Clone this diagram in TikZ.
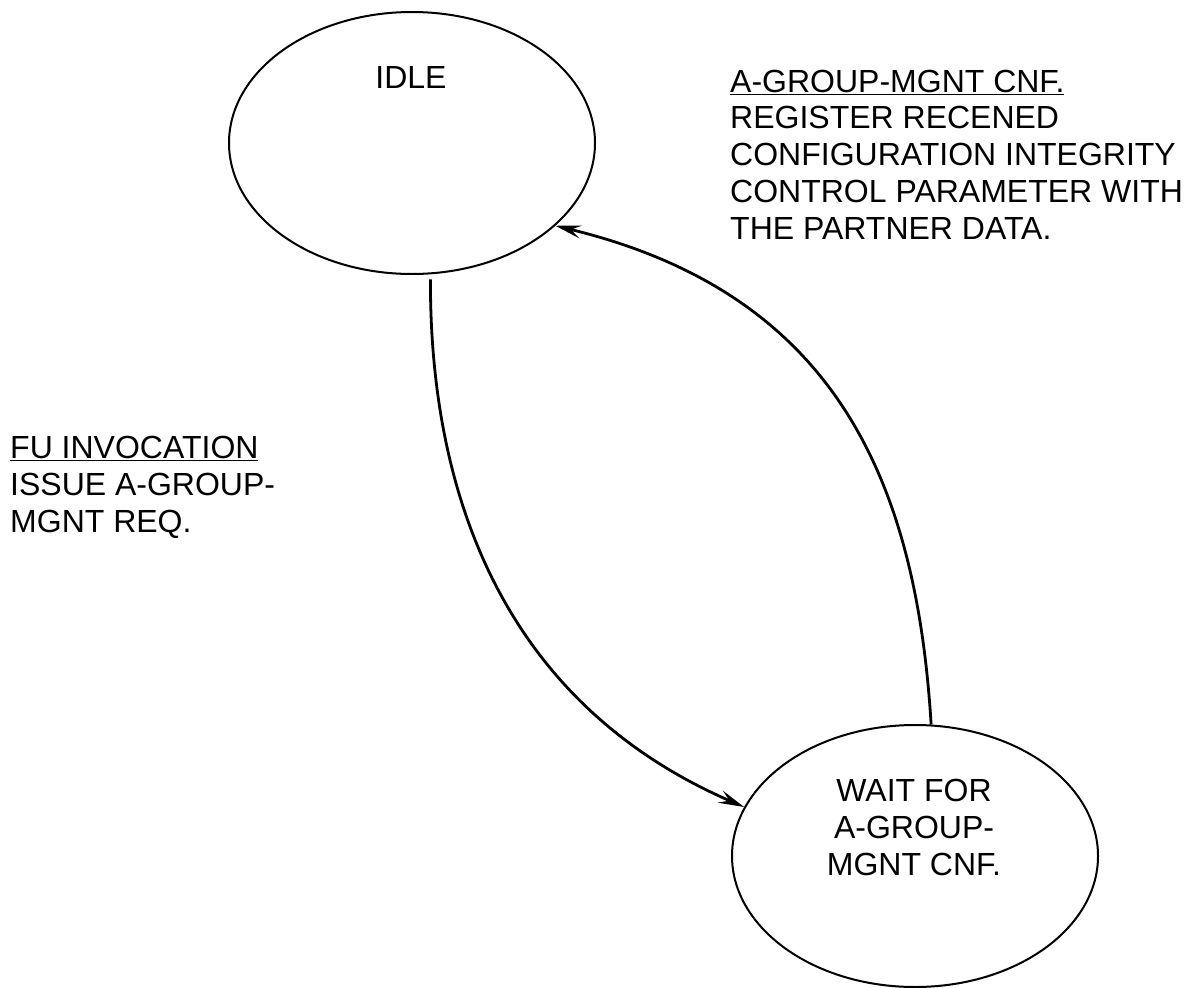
\documentclass[tikz,border=0pt]{standalone}
\usepackage{fontspec}
\setmainfont{Liberation Sans}
\usetikzlibrary{shapes.geometric,arrows.meta}

\begin{document}
\begin{tikzpicture}[x=1pt,y=-1pt,
  statebox/.style={draw, ellipse, line width=2pt, inner sep=0pt,
                   minimum width=366pt, minimum height=262pt},
  txt/.style={inner sep=0pt, font=\fontsize{32}{36.7}\selectfont},
  trans/.style={line width=2.8pt, -{Stealth[length=26pt,width=13pt,inset=10pt]}}
]
\useasboundingbox (0,0) rectangle (1200,988);

% states
\node[statebox] (idle) at (412,143) {};
\node[statebox] (wait) at (915,856) {};

% state names (base anchor = baseline of the last line)
\node[txt, anchor=base] (idlename) at (411,88) {IDLE};
\node[txt, anchor=base, align=center] (waitname) at (914,875)
  {WAIT FOR\\A-GROUP-\\MGNT CNF.};

% transition labels
\node[txt, anchor=base west, align=left] (reqlabel) at (10,532)
  {\underline{FU INVOCATION}\\ISSUE A-GROUP-\\MGNT REQ.};
\node[txt, anchor=base west, align=left] (cnflabel) at (730,239)
  {\underline{A-GROUP-MGNT CNF.}\\REGISTER RECENED\\CONFIGURATION INTEGRITY\\CONTROL PARAMETER WITH\\THE PARTNER DATA.};

% transitions
\draw[trans, shorten <=5pt] (idle.-82) .. controls (430,434) and (467,687) .. (wait.164);
\draw[trans] (wait.83) .. controls (916,478) and (834,293) .. (idle.-30);
\end{tikzpicture}
\end{document}
